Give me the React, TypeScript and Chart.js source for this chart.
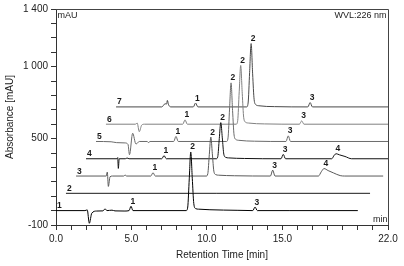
import React, { useEffect, useRef } from 'react';
import { Chart, registerables } from 'chart.js';

Chart.register(...registerables);

const FONT = 'Liberation Sans, Arial, sans-serif';

// Axis ticks with labels
const xTickLabels = [0, 5, 10, 15, 22];
const yTickLabels = [-100, 500, 1000, 1400];

// Overlay offsets of each chromatogram (start time shift, baseline shift)
const traceNames = ['1', '2', '3', '4', '5', '6', '7'];
const traceStart = [0, 0.66, 1.33, 1.99, 2.65, 3.31, 3.98];
const traceBase = [0, 120, 240, 360, 480, 600, 720];
const traceColors = ['#000000', '#1a1a1a', '#5a5a5a', '#111111', '#6a6a6a', '#808080', '#484848'];

// Trace 1
const t1Time = [0, 1.92, 2.07, 2.21, 2.37, 2.7, 3.11, 3.25, 3.38, 3.71, 3.91, 4.57, 4.84, 4.97, 5.1, 8.63, 8.73, 8.83, 8.93, 9.03, 9.13, 9.25, 9.45, 10.2, 12.0, 13.04, 13.19, 13.34, 15.5, 20.0];
const t1Abs = [0, 0, 5, -88, -18, -3, -2, 12, 0, 3, -2, -3, 0, 30, 0, 0, 25, 220, 407, 225, 50, 14, 10, 6, 2, 0, 25, 0, 0, 0];
const t1Peaks = [['1', 4.97], ['2', 8.93], ['3', 13.19]];

// Trace 2
const t2Time = [0, 10, 20.15];
const t2Abs = [0, 0, 0];
const t2Peaks: [string, number][] = [];

// Trace 3
const t3Time = [0, 2.0, 2.07, 2.14, 2.25, 2.4, 3.15, 3.25, 3.35, 4.95, 5.1, 5.25, 8.63, 8.73, 8.83, 8.93, 9.03, 9.13, 9.25, 9.45, 10.5, 12.88, 13.03, 13.18, 16.06, 16.25, 16.43, 16.7, 17.05, 17.5, 17.8, 20.35];
const t3Abs = [0, 0, 28, -72, -5, 0, 0, 7, 0, 0, 23, 0, 0, 17, 150, 271, 155, 34, 10, 6, 2, 0, 41, 0, 0, 30, 52, 38, 22, 3, 0, 0];
const t3Peaks = [['1', 5.1], ['2', 8.93], ['3', 13.03], ['4', 16.43]];

// Trace 4
const t4Time = [0, 2.05, 2.1, 2.14, 2.2, 2.6, 2.72, 2.85, 5.02, 5.17, 5.32, 8.63, 8.73, 8.83, 8.93, 9.03, 9.13, 9.25, 9.45, 10.5, 12.92, 13.07, 13.22, 16.28, 16.45, 16.57, 16.8, 17.16, 17.6, 20.2];
const t4Abs = [0, 0, 8, -67, 0, 0, 5, 0, 0, 22, 0, 0, 15, 140, 251, 145, 32, 10, 6, 2, 0, 30, 0, 0, 25, 35, 27, 16, 0, 0];
const t4Peaks = [['1', 5.17], ['2', 8.93], ['3', 13.07], ['4', 16.57]];

// Trace 5
const t5Time = [0, 1.0, 1.37, 1.92, 2.12, 2.22, 2.43, 2.65, 2.87, 3.4, 3.47, 3.58, 5.15, 5.3, 5.45, 8.65, 8.75, 8.85, 8.95, 9.05, 9.15, 9.27, 9.47, 10.5, 12.59, 12.74, 12.89, 20.2];
const t5Abs = [0, -2, -8, -10, -20, -92, 57, -18, 0, 0, -8, 0, 0, 35, 0, 0, 25, 225, 407, 215, 45, 14, 8, 2, 0, 39, 0, 0];
const t5Peaks = [['1', 5.3], ['2', 8.95], ['3', 12.74]];

// Trace 6
const t6Time = [0, 1.95, 2.07, 2.21, 2.37, 2.55, 5.09, 5.24, 5.39, 8.63, 8.73, 8.83, 8.93, 9.03, 9.13, 9.25, 9.45, 10.5, 12.82, 12.97, 13.12, 20.2];
const t6Abs = [0, 0, 8, -52, -6, 0, 0, 30, 0, 0, 25, 225, 408, 215, 45, 14, 8, 2, 0, 23, 0, 0];
const t6Peaks = [['1', 5.24], ['2', 8.93], ['3', 12.97]];

// Trace 7
const t7Time = [0, 3.03, 3.25, 3.35, 3.4, 3.48, 3.64, 5.12, 5.27, 5.42, 8.65, 8.75, 8.85, 8.95, 9.05, 9.15, 9.27, 9.47, 10.5, 12.71, 12.86, 13.01, 20.2];
const t7Abs = [0, 0, 22, 20, 45, 15, 0, 0, 27, 0, 0, 27, 240, 440, 230, 50, 15, 8, 2, 0, 30, 0, 0];
const t7Peaks = [['1', 5.27], ['2', 8.95], ['3', 12.86]];

const traces = [
  { time: t1Time, abs: t1Abs, peaks: t1Peaks },
  { time: t2Time, abs: t2Abs, peaks: t2Peaks },
  { time: t3Time, abs: t3Abs, peaks: t3Peaks },
  { time: t4Time, abs: t4Abs, peaks: t4Peaks },
  { time: t5Time, abs: t5Abs, peaks: t5Peaks },
  { time: t6Time, abs: t6Abs, peaks: t6Peaks },
  { time: t7Time, abs: t7Abs, peaks: t7Peaks },
];

function fmtY(v: number): string {
  if (Math.abs(v) >= 1000) {
    const th = Math.trunc(v / 1000);
    const rest = Math.abs(v % 1000);
    return `${th} ${String(rest).padStart(3, '0')}`;
  }
  return String(v);
}

const decorPlugin = {
  id: 'decor',
  afterDatasetsDraw(chart: any) {
    const { ctx, chartArea: a, scales } = chart;
    const xs = scales.x;
    const ys = scales.y;
    ctx.save();
    // frame top & right
    ctx.strokeStyle = '#444';
    ctx.lineWidth = 1;
    ctx.beginPath();
    ctx.moveTo(a.left, a.top + 0.5);
    ctx.lineTo(a.right + 0.5, a.top + 0.5);
    ctx.lineTo(a.right + 0.5, a.bottom);
    ctx.stroke();

    // corner texts
    ctx.fillStyle = '#222';
    ctx.font = `9px ${FONT}`;
    ctx.textBaseline = 'alphabetic';
    ctx.textAlign = 'left';
    ctx.fillText('mAU', a.left + 1.5, a.top + 9);
    ctx.textAlign = 'right';
    ctx.fillText('WVL:226 nm', a.right - 1.5, a.top + 9);
    ctx.fillText('min', a.right - 0.5, a.bottom - 3.5);

    // trace & peak labels
    ctx.font = `bold 8.5px ${FONT}`;
    ctx.textAlign = 'left';
    ctx.textBaseline = 'alphabetic';
    traces.forEach((tr, i) => {
      ctx.fillStyle = '#1a1a1a';
      const sx = xs.getPixelForValue(traceStart[i]);
      const sy = ys.getPixelForValue(traceBase[i]);
      ctx.fillText(traceNames[i], sx + 1, sy - 2.5);
      tr.peaks.forEach(([name, t]) => {
        const k = tr.time.indexOf(t as number);
        if (k < 0) return;
        const px = xs.getPixelForValue((t as number) + traceStart[i]);
        const py = ys.getPixelForValue(tr.abs[k] + traceBase[i]);
        if (px > a.right) return;
        ctx.fillText(name as string, px - 0.5, py - 2.5);
      });
    });
    ctx.restore();
  },
};

export default function App() {
  const ref = useRef<HTMLCanvasElement | null>(null);

  useEffect(() => {
    document.body.style.margin = '0';
    const canvas = ref.current;
    if (!canvas) return;
    const datasets = traces.map((tr, i) => ({
      label: traceNames[i],
      data: tr.time.map((t, k) => ({ x: t + traceStart[i], y: tr.abs[k] + traceBase[i] })),
      borderColor: traceColors[i],
      backgroundColor: traceColors[i],
      borderWidth: 1,
      pointRadius: 0,
      fill: false,
      cubicInterpolationMode: 'monotone' as const,
    }));

    const chart = new Chart(canvas, {
      type: 'line',
      data: { datasets },
      options: {
        animation: false,
        responsive: false,
        events: [],
        layout: { padding: { top: 8, right: 16, left: 0, bottom: 0 } },
        plugins: { legend: { display: false }, tooltip: { enabled: false } },
        scales: {
          x: {
            type: 'linear',
            min: 0,
            max: 22,
            border: { display: true, color: '#333', width: 1 },
            grid: { display: true, drawOnChartArea: false, drawTicks: true, tickLength: 5, color: '#333' },
            ticks: {
              stepSize: 1,
              autoSkip: false,
              maxRotation: 0,
              padding: 3,
              color: '#222',
              font: { family: FONT, size: 10 },
              callback: (v: any) => (xTickLabels.includes(Number(v)) ? Number(v).toFixed(1) : ''),
            },
            title: {
              display: true,
              text: 'Retention Time [min]',
              color: '#222',
              font: { family: FONT, size: 10 },
              padding: { top: 0, bottom: 5 },
            },
            afterFit: (s: any) => {
              s.height = 41;
            },
          },
          y: {
            type: 'linear',
            min: -100,
            max: 1400,
            border: { display: true, color: '#333', width: 1 },
            grid: { display: true, drawOnChartArea: false, drawTicks: true, tickLength: 5, color: '#333' },
            ticks: {
              stepSize: 100,
              autoSkip: false,
              padding: 3,
              color: '#222',
              font: { family: FONT, size: 10 },
              callback: (v: any) => (yTickLabels.includes(Number(v)) ? fmtY(Number(v)) : ''),
            },
            title: {
              display: true,
              text: 'Absorbance [mAU]',
              color: '#222',
              font: { family: FONT, size: 10 },
              padding: { top: 4, bottom: 0 },
            },
            afterFit: (s: any) => {
              s.width = 56;
            },
          },
        },
      },
      plugins: [decorPlugin],
    });
    return () => chart.destroy();
  }, []);

  return (
    <div style={{ width: 404, height: 266 }}>
      <canvas ref={ref} width={404} height={266} style={{ display: 'block' }} />
    </div>
  );
}
